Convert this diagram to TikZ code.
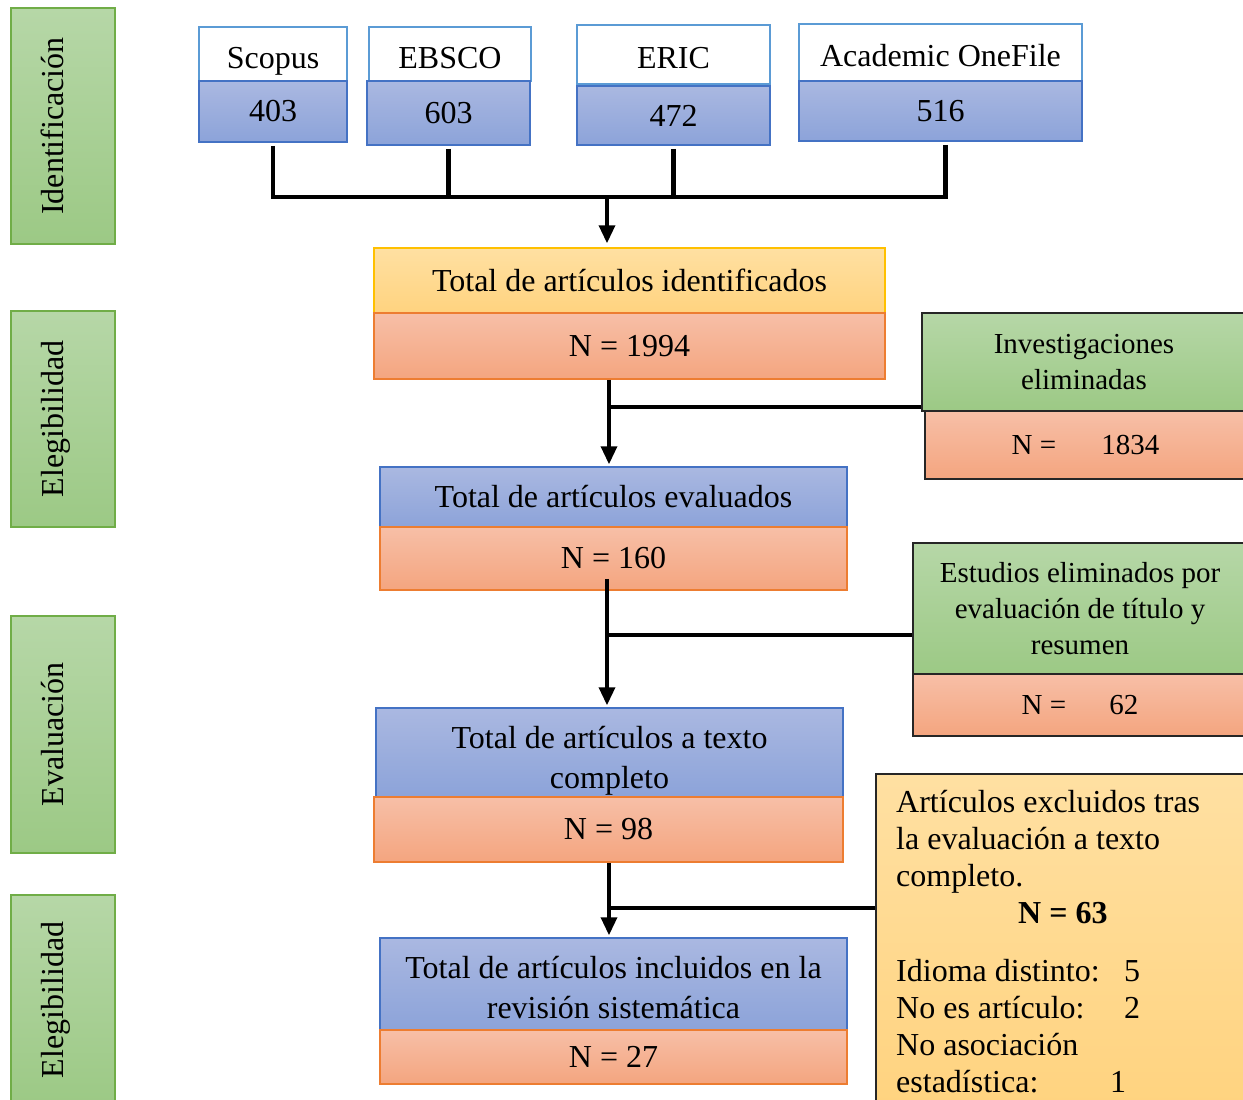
\documentclass[tikz,border=0pt]{standalone}
\usepackage{fontspec}
\setmainfont{Liberation Serif}
\usetikzlibrary{arrows.meta}

\definecolor{blueT}{HTML}{AAB8E1}
\definecolor{blueB}{HTML}{8CA3D9}
\definecolor{blueline}{HTML}{4472C4}
\definecolor{srcline}{HTML}{5B9BD5}
\definecolor{orangeT}{HTML}{F7BFA7}
\definecolor{orangeB}{HTML}{F4A57F}
\definecolor{orangeline}{HTML}{ED7D31}
\definecolor{yellowT}{HTML}{FFE0A2}
\definecolor{yellowB}{HTML}{FFD37F}
\definecolor{yellowline}{HTML}{FFC000}
\definecolor{greenT}{HTML}{B6D7A7}
\definecolor{greenB}{HTML}{9CC985}
\definecolor{greenline}{HTML}{70AD47}

\begin{document}
\begin{tikzpicture}[
    x=1pt, y=-1pt,
    every node/.style={font=\fontsize{32}{37}\selectfont, inner sep=0pt},
    srcbox/.style={draw=srcline, line width=2pt, fill=white, text height=28pt, text depth=0pt},
    bluebox/.style={draw=blueline, line width=1.5pt, top color=blueT, bottom color=blueB, align=center},
    orangebox/.style={draw=orangeline, line width=1.5pt, top color=orangeT, bottom color=orangeB},
    yellowbox/.style={draw=yellowline, line width=1.5pt, top color=yellowT, bottom color=yellowB},
    greenbox/.style={draw=greenline, line width=1.5pt, top color=greenT, bottom color=greenB},
    sidetext/.style={rotate=90, anchor=base},
    twoline/.style={align=center, font=\fontsize{32}{40}\selectfont},
    outgreen/.style={greenbox, draw=black!85, align=center, font=\fontsize{29}{36}\selectfont},
    outorange/.style={orangebox, draw=black!85, font=\fontsize{29}{36}\selectfont},
    feed/.style={line width=4.5pt},
    link/.style={line width=3.5pt},
    arr/.style={-{Triangle[length=18pt,width=16pt]}}
]
\useasboundingbox (0,0) rectangle (1243,1100);

% Left: stage labels
\node[greenbox, minimum width=104, minimum height=236] (stage1) at (63,126) {};
\node[sidetext] at (stage1.center) {Identificación};
\node[greenbox, minimum width=104, minimum height=216] (stage2) at (63,419) {};
\node[sidetext] at (stage2.center) {Elegibilidad};
\node[greenbox, minimum width=104, minimum height=237] (stage3) at (63,734.5) {};
\node[sidetext] at (stage3.center) {Evaluación};
\node[greenbox, minimum width=104, minimum height=210] (stage4) at (63,1000) {};
\node[sidetext] at (stage4.center) {Elegibilidad};

% Top: databases
\node[srcbox, minimum width=148, minimum height=54] (scopus) at (273,54) {Scopus};
\node[bluebox, minimum width=148, minimum height=61] (scopusN) at (273,111.5) {403};
\node[srcbox, minimum width=162, minimum height=54] (ebsco) at (450,54) {EBSCO};
\node[bluebox, minimum width=163, minimum height=64] (ebscoN) at (448.5,113) {603};
\node[srcbox, minimum width=193, minimum height=59] (eric) at (673.5,54.5) {ERIC};
\node[bluebox, minimum width=193, minimum height=59] (ericN) at (673.5,115.5) {472};
\node[srcbox, minimum width=283, minimum height=57] (aof) at (940.5,52.5) {Academic OneFile};
\node[bluebox, minimum width=283, minimum height=60] (aofN) at (940.5,111) {516};

% Middle: main flow
\node[yellowbox, minimum width=511, minimum height=65] (ident) at (629.5,280.5) {Total de artículos identificados};
\node[orangebox, minimum width=511, minimum height=66] (identN) at (629.5,346) {N = 1994};
\node[bluebox, minimum width=467, minimum height=60] (eval) at (613.5,497) {Total de artículos evaluados};
\node[orangebox, minimum width=467, minimum height=63] (evalN) at (613.5,558.5) {N = 160};
\node[bluebox, minimum width=467, minimum height=89] (full) at (609.5,752.5) {};
\node[twoline] (fullTxt) at ([yshift=-8pt]full.center) {Total de artículos a texto\\completo};
\node[orangebox, minimum width=469, minimum height=65] (fullN) at (608.5,829.5) {N = 98};
\node[bluebox, minimum width=467, minimum height=92] (incl) at (613.5,984) {};
\node[twoline] (inclTxt) at ([yshift=-4pt]incl.center) {Total de artículos incluidos en la\\revisión sistemática};
\node[orangebox, minimum width=467, minimum height=54] (inclN) at (613.5,1057) {N = 27};

% Right: removed records
\node[outgreen, minimum width=324, minimum height=98] (drop1) at (1084,362) {Investigaciones\\eliminadas};
\node[outorange, minimum width=321, minimum height=68] (drop1N) at (1085.5,445) {N =\hspace{45pt}1834};
\node[outgreen, minimum width=334, minimum height=131] (drop2) at (1080,608.5) {Estudios eliminados por\\evaluación de título y\\resumen};
\node[outorange, minimum width=334, minimum height=62] (drop2N) at (1080,705) {N =\hspace{43pt}62};
\node[yellowbox, draw=black!85, anchor=north west, minimum width=375, minimum height=337] (drop3) at (875,773) {};
\node[anchor=north west, align=left] (drop3txt) at (896,790) {Artículos excluidos tras\\
la evaluación a texto\\
completo.\\
\hspace*{122pt}\textbf{N = 63}\\[21pt]
\makebox[228pt][l]{Idioma distinto:}5\\
\makebox[228pt][l]{No es artículo:}2\\
No asociación\\
\makebox[214pt][l]{estadística:}1};

% Connectors
\coordinate (join) at (607,197);
\coordinate (cut1) at (609,407);
\coordinate (cut2) at (607,635);
\coordinate (cut3) at (609,908);

\draw[feed, shorten <=3pt] (scopusN.south) |- (join);
\draw[feed, shorten <=3pt] (ebscoN.south) |- (join);
\draw[feed, shorten <=3pt] (ericN.south) |- (join);
\draw[feed, shorten <=3pt] ([xshift=5pt]aofN.south) |- (join);
\draw[link, arr, shorten >=4pt] (join) -- (join |- ident.north);

\draw[link, arr, shorten >=2pt] (identN.south -| cut1) -- (eval.north -| cut1);
\draw[link] (cut1) -- (cut1 -| drop1.west);

\draw[link, arr, shorten <=-12pt, shorten >=2pt] (evalN.south -| cut2) -- (full.north -| cut2);
\draw[link] (cut2) -- (cut2 -| drop2.west);

\draw[link, arr, shorten >=2pt] (fullN.south -| cut3) -- (incl.north -| cut3);
\draw[link] (cut3) -- (cut3 -| drop3.west);

\end{tikzpicture}
\end{document}
